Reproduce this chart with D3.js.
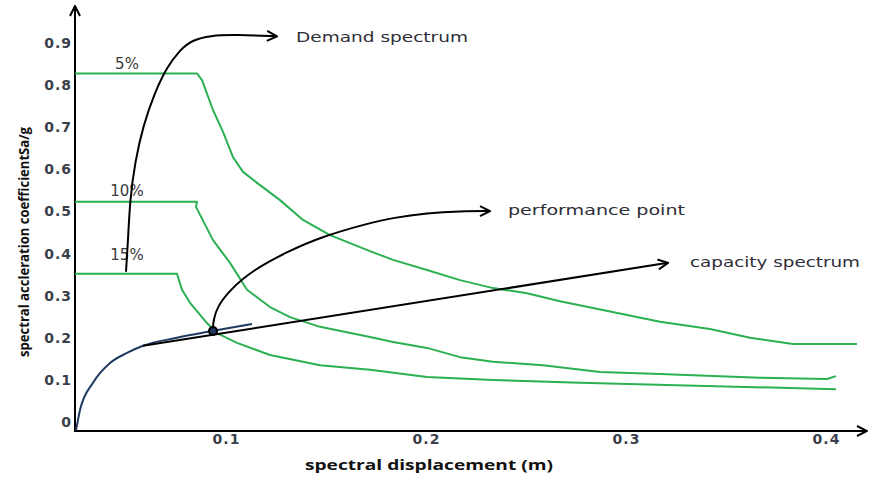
<!DOCTYPE html>
<html>
<head>
<meta charset="utf-8">
<script src="https://d3js.org/d3.v7.min.js"></script>
<style>
  body { margin: 0; background: #fff; }
  svg { display: block; }
</style>
</head>
<body>
<svg width="869" height="477"></svg>
<script>
// demand spectra (spectral displacement m, Sa/g)
var demand5 = [[0.0245,0.828],[0.0855,0.828],[0.088,0.812],[0.0935,0.741],[0.0985,0.689],[0.1035,0.629],
  [0.1085,0.594],[0.1155,0.568],[0.127,0.527],[0.1385,0.480],[0.152,0.444],[0.172,0.406],[0.1835,0.385],
  [0.2005,0.361],[0.217,0.337],[0.2335,0.318],[0.2505,0.306],[0.267,0.287],[0.2835,0.271],[0.317,0.238],
  [0.342,0.221],[0.362,0.200],[0.3835,0.185],[0.4155,0.185]];
var demand10 = [[0.0245,0.523],[0.0855,0.523],[0.085,0.511],[0.0935,0.432],[0.102,0.378],[0.1105,0.314],
  [0.122,0.273],[0.132,0.249],[0.147,0.226],[0.172,0.202],[0.1835,0.190],[0.2005,0.176],[0.217,0.154],
  [0.2335,0.143],[0.2585,0.135],[0.287,0.119],[0.317,0.114],[0.367,0.105],[0.4005,0.102],[0.405,0.109]];
var demand15 = [[0.0245,0.352],[0.0755,0.352],[0.078,0.314],[0.082,0.283],[0.0905,0.235],[0.0955,0.211],
  [0.1055,0.188],[0.122,0.159],[0.147,0.135],[0.172,0.124],[0.2005,0.107],[0.2335,0.100],[0.277,0.093],
  [0.405,0.078]];
var capacity = [[0.025,-0.02],[0.026,0.005],[0.027,0.0285],[0.0335,0.093],[0.042,0.140],[0.0505,0.164],
  [0.0585,0.181],[0.0755,0.200],[0.093,0.216],[0.113,0.233]];
var dampingLabels = [{text: "5%", x: 0.0505, y: 0.838}, {text: "10%", x: 0.0505, y: 0.537}, {text: "15%", x: 0.0505, y: 0.385}];
var perfPoint = [0.0935, 0.216];

// annotation arrows
var demandArrow = [[0.050,0.357],[0.051,0.430],[0.052,0.529],[0.0545,0.617],[0.0585,0.703],[0.0645,0.784],
  [0.0705,0.843],[0.077,0.884],[0.083,0.907],[0.092,0.918],[0.105,0.920],[0.1255,0.916]];
var perfArrow = [[0.0935,0.226],[0.0938,0.242],[0.0955,0.273],[0.102,0.314],[0.1135,0.361],[0.1305,0.404],
  [0.147,0.439],[0.172,0.473],[0.1835,0.485],[0.2005,0.496],[0.217,0.501],[0.232,0.501]];
var capArrow = [[0.0585,0.181],[0.321,0.378]];

var yTicks = [0, 0.1, 0.2, 0.3, 0.4, 0.5, 0.6, 0.7, 0.8, 0.9],
    xTicks = [0.1, 0.2, 0.3, 0.4];

var svg = d3.select("svg");

var x = d3.scaleLinear()
    .domain([0.0245, 0.42])
    .range([75, 866]);

var y = d3.scaleLinear()
    .domain([-0.0214, 0.9857])
    .range([431, 7]);

var defs = svg.append("defs");
defs.append("marker")
    .attr("id", "head")
    .attr("viewBox", "0 0 12 12")
    .attr("refX", 11).attr("refY", 6)
    .attr("markerWidth", 12).attr("markerHeight", 12)
    .attr("markerUnits", "userSpaceOnUse")
    .attr("orient", "auto")
  .append("path")
    .attr("d", "M1,1 L11,6 L1,11")
    .attr("fill", "none")
    .attr("stroke", "#000")
    .attr("stroke-width", 2);

// axes
var tickColor = "#3a3f4a";
svg.append("g")
    .attr("transform", "translate(75,0)")
    .call(d3.axisLeft(y).tickValues(yTicks).tickSize(0).tickPadding(3)
      .tickFormat(function(d) { return d === 0 ? "0" : d3.format(".1f")(d); }));
svg.append("g")
    .attr("transform", "translate(0,431)")
    .call(d3.axisBottom(x).tickValues(xTicks).tickSize(0).tickPadding(3).tickFormat(d3.format(".1f")));

svg.selectAll(".domain").remove();
svg.selectAll(".tick text")
    .attr("font-family", "DejaVu Sans")
    .attr("font-size", 14)
    .attr("font-weight", "bold")
    .attr("letter-spacing", 1)
    .attr("fill", tickColor);

svg.append("line")
    .attr("x1", 75).attr("y1", 432).attr("x2", 75).attr("y2", 6)
    .attr("stroke", "#000").attr("stroke-width", 2)
    .attr("marker-end", "url(#head)");
svg.append("line")
    .attr("x1", 74).attr("y1", 431).attr("x2", 867).attr("y2", 431)
    .attr("stroke", "#000").attr("stroke-width", 2)
    .attr("marker-end", "url(#head)");

svg.append("text")
    .attr("transform", "translate(29,242) rotate(-90)")
    .attr("text-anchor", "middle")
    .attr("font-family", "Open Sans")
    .attr("font-weight", "bold")
    .attr("font-size", 15)
    .attr("textLength", 230)
    .attr("lengthAdjust", "spacingAndGlyphs")
    .attr("fill", "#111")
    .text("spectral accleration coefficientSa/g");

svg.append("text")
    .attr("x", 429).attr("y", 470)
    .attr("text-anchor", "middle")
    .attr("font-family", "Open Sans")
    .attr("font-weight", "bold")
    .attr("font-size", 15)
    .attr("textLength", 248)
    .attr("lengthAdjust", "spacingAndGlyphs")
    .attr("fill", "#111")
    .text("spectral displacement (m)");

// curves
var line = d3.line()
    .x(function(d) { return x(d[0]); })
    .y(function(d) { return y(d[1]); });
var smooth = d3.line()
    .x(function(d) { return x(d[0]); })
    .y(function(d) { return y(d[1]); })
    .curve(d3.curveMonotoneX);
var spline = d3.line()
    .x(function(d) { return x(d[0]); })
    .y(function(d) { return y(d[1]); })
    .curve(d3.curveBasis);

svg.selectAll(".demand")
  .data([demand5, demand10, demand15])
  .enter().append("path")
    .attr("class", "demand")
    .attr("d", line)
    .attr("fill", "none")
    .attr("stroke", "#2bb052")
    .attr("stroke-width", 2)
    .attr("stroke-linejoin", "round");

svg.append("path")
    .attr("d", smooth(capacity))
    .attr("fill", "none")
    .attr("stroke", "#1f3a60")
    .attr("stroke-width", 2);

svg.selectAll(".pct")
  .data(dampingLabels)
  .enter().append("text")
    .attr("class", "pct")
    .attr("x", function(d) { return x(d.x); })
    .attr("y", function(d) { return y(d.y); })
    .attr("text-anchor", "middle")
    .attr("font-family", "DejaVu Sans")
    .attr("font-size", 15)
    .attr("fill", "#3a3a3a")
    .text(function(d) { return d.text; });

// annotations
[demandArrow, perfArrow].forEach(function(pts) {
  svg.append("path")
      .attr("d", spline(pts))
      .attr("fill", "none")
      .attr("stroke", "#000")
      .attr("stroke-width", 2)
      .attr("marker-end", "url(#head)");
});
svg.append("path")
    .attr("d", line(capArrow))
    .attr("fill", "none")
    .attr("stroke", "#000")
    .attr("stroke-width", 2)
    .attr("marker-end", "url(#head)");

svg.append("circle")
    .attr("cx", x(perfPoint[0]))
    .attr("cy", y(perfPoint[1]))
    .attr("r", 4)
    .attr("fill", "#1f3a60")
    .attr("stroke", "#000")
    .attr("stroke-width", 2);

var notes = [
  {text: "Demand spectrum", x: 0.135, y: 0.914, w: 172},
  {text: "performance point", x: 0.241, y: 0.503, w: 177},
  {text: "capacity spectrum", x: 0.332, y: 0.380, w: 170}
];
svg.selectAll(".note")
  .data(notes)
  .enter().append("text")
    .attr("class", "note")
    .attr("x", function(d) { return x(d.x); })
    .attr("y", function(d) { return y(d.y); })
    .attr("dy", "0.35em")
    .attr("font-family", "DejaVu Sans")
    .attr("font-size", 14)
    .attr("textLength", function(d) { return d.w; })
    .attr("lengthAdjust", "spacingAndGlyphs")
    .attr("fill", "#2e2e38")
    .text(function(d) { return d.text; });
</script>
</body>
</html>
